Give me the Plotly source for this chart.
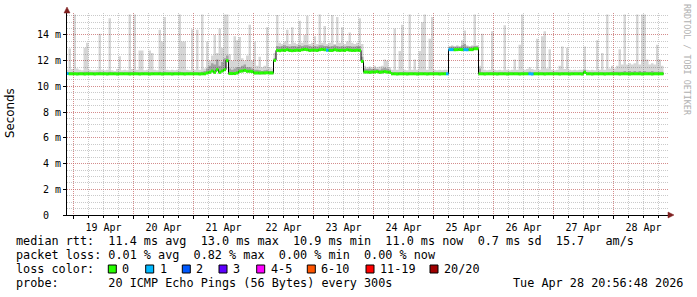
import plotly.graph_objects as go

# ---------------- data (hours since 19 Apr 00:00, hourly bins, start -3) ----------------
hours = list(range(-3, 236))

median_ms = (
    [11.00, 10.98, 10.98] +
    # 19 Apr
    [10.98, 10.97, 10.98, 10.98, 10.97, 10.98, 10.98, 10.98, 10.97, 10.98, 10.98, 10.98,
     10.98, 10.97, 10.98, 10.98, 10.98, 10.97, 10.98, 10.98, 10.98, 10.98, 10.97, 10.98] +
    # 20 Apr
    [10.98, 10.98, 10.97, 10.98, 10.98, 10.98, 10.97, 10.98, 10.98, 10.98, 10.98, 10.97,
     10.98, 10.98, 10.98, 10.97, 10.98, 10.98, 10.98, 10.98, 10.97, 10.98, 10.98, 10.98] +
    # 21 Apr
    [10.98, 10.98, 10.97, 10.98, 10.98, 11.05, 11.10, 11.20, 11.10, 11.30, 11.10, 11.20,
     11.30, 12.00, 11.00, 11.00, 11.00, 11.05, 11.18, 11.20, 11.25, 11.18, 11.18, 11.15] +
    # 22 Apr
    [11.05, 11.05, 11.04, 11.05, 11.05, 11.06, 11.05, 11.05, 12.03, 12.80, 12.78, 12.82,
     12.80, 12.85, 12.80, 12.78, 12.80, 12.82, 12.80, 12.85, 12.88, 12.85, 12.80, 12.82] +
    # 23 Apr
    [12.82, 12.80, 12.85, 12.88, 12.85, 12.82, 12.80, 12.80, 12.85, 12.82, 12.80, 12.82,
     12.80, 12.85, 12.82, 12.80, 12.80, 12.82, 12.80, 11.95, 11.12, 11.12, 11.10, 11.12] +
    # 24 Apr
    [11.12, 11.15, 11.10, 11.12, 11.15, 11.12, 11.10, 10.98, 10.98, 10.97, 10.98, 10.98,
     10.98, 10.97, 10.98, 10.98, 10.98, 10.97, 10.98, 10.98, 10.98, 10.97, 10.98, 10.98] +
    # 25 Apr
    [10.98, 10.98, 10.97, 10.98, 10.98, 10.98, 12.86, 12.86, 12.85, 12.86, 12.87, 12.86,
     12.86, 12.85, 12.86, 12.86, 12.93, 12.93, 10.98, 10.98, 10.97, 10.98, 10.98, 10.98] +
    # 26 Apr
    [10.98, 10.97, 10.98, 10.98, 10.98, 10.97, 10.98, 10.98, 10.98, 10.98, 10.97, 10.98,
     10.98, 10.98, 10.98, 10.97, 10.98, 10.98, 10.98, 10.98, 10.97, 10.98, 10.98, 10.98] +
    # 27 Apr
    [10.98, 10.98, 10.97, 10.98, 10.98, 10.98, 10.97, 10.98, 10.98, 10.98, 10.98, 10.97,
     11.10, 10.98, 10.98, 10.97, 10.98, 10.98, 10.98, 10.98, 10.97, 10.98, 10.98, 10.98] +
    # 28 Apr
    [10.98, 10.98, 10.97, 10.98, 10.98, 10.98, 10.97, 10.98, 10.98, 10.98, 10.98, 10.97,
     10.98, 10.98, 10.98, 10.97, 10.98, 10.98, 10.98, 10.98]
)

smoke_max_ms = (
    [11.30, 12.95, 11.35] +
    [15.60, 11.40, 11.30, 11.25, 13.00, 13.40, 11.30, 11.25, 11.25, 11.30, 14.10, 11.30,
     11.25, 11.30, 15.30, 11.25, 11.20, 11.35, 12.35, 11.25, 11.30, 11.25, 15.60, 11.35] +
    [15.60, 11.30, 12.80, 12.80, 11.25, 11.30, 12.80, 12.60, 11.30, 11.25, 14.40, 13.50,
     15.40, 11.30, 11.25, 11.30, 11.25, 11.30, 15.60, 13.50, 13.50, 11.30, 11.25, 14.45] +
    [11.30, 14.40, 11.30, 15.60, 11.40, 13.50, 12.00, 12.40, 14.00, 12.60, 14.50, 13.00,
     15.60, 15.60, 12.50, 12.00, 13.90, 13.60, 13.85, 12.20, 12.00, 12.40, 14.80, 12.00] +
    [13.50, 11.60, 12.30, 11.50, 11.60, 14.60, 11.50, 11.40, 12.60, 15.55, 13.40, 13.30,
     13.50, 14.40, 13.30, 14.60, 13.40, 13.30, 15.10, 13.40, 14.00, 15.50, 13.30, 13.40] +
    [13.90, 13.30, 15.60, 13.40, 14.70, 13.30, 13.40, 15.55, 13.30, 15.40, 13.40, 14.60,
     13.30, 13.50, 14.20, 13.40, 13.30, 13.40, 15.30, 13.30, 11.60, 11.50, 11.55, 11.50] +
    [11.60, 11.50, 11.55, 11.60, 12.10, 12.00, 11.50, 11.30, 14.50, 11.30, 12.75, 14.80,
     11.30, 11.25, 15.60, 11.30, 12.10, 11.30, 12.75, 15.00, 15.60, 11.30, 13.70, 15.40] +
    [11.30, 11.25, 11.30, 11.25, 11.30, 11.30, 13.10, 13.20, 13.10, 13.20, 13.10, 13.60,
     14.35, 13.20, 13.10, 13.20, 15.60, 13.20, 11.60, 14.10, 11.30, 11.25, 11.30, 14.30] +
    [11.30, 11.25, 11.30, 11.25, 14.75, 11.30, 11.25, 11.30, 12.10, 11.30, 13.25, 15.60,
     11.30, 11.35, 11.50, 11.35, 11.30, 13.70, 11.30, 13.90, 14.30, 11.40, 12.90, 11.30] +
    [11.25, 11.30, 11.60, 13.10, 11.35, 13.00, 11.30, 11.25, 11.30, 11.25, 11.30, 11.30,
     13.10, 11.30, 11.25, 11.30, 11.25, 13.60, 11.30, 12.60, 11.30, 15.60, 11.40, 11.60] +
    [11.40, 11.60, 12.90, 11.70, 15.60, 11.70, 11.80, 11.70, 11.80, 15.60, 11.70, 15.60,
     15.60, 12.10, 11.70, 11.80, 11.70, 13.25, 12.10, 11.60]
)

smoke_mid_ms = (
    [11.10, 11.10, 11.10] +
    [11.10, 11.10, 11.10, 11.10, 11.15, 11.15, 11.10, 11.10, 11.10, 11.10, 11.15, 11.10,
     11.10, 11.10, 11.15, 11.10, 11.10, 11.10, 11.10, 11.10, 11.10, 11.10, 11.15, 11.10] +
    [11.15, 11.10, 11.10, 11.10, 11.10, 11.10, 11.10, 11.10, 11.10, 11.10, 11.15, 11.10,
     11.15, 11.10, 11.10, 11.10, 11.10, 11.10, 11.15, 11.10, 11.10, 11.10, 11.10, 11.10] +
    [11.10, 11.10, 11.10, 11.15, 11.20, 11.40, 11.60, 11.80, 11.70, 12.10, 11.60, 11.90,
     12.20, 12.40, 11.40, 11.30, 11.40, 11.50, 11.50, 11.60, 11.70, 11.50, 11.50, 11.40] +
    [11.30, 11.30, 11.25, 11.20, 11.25, 11.30, 11.20, 11.20, 12.20, 13.15, 13.10, 13.15,
     13.20, 13.15, 13.10, 13.15, 13.15, 13.10, 13.20, 13.15, 13.20, 13.20, 13.15, 13.10] +
    [13.15, 13.10, 13.20, 13.20, 13.15, 13.15, 13.10, 13.15, 13.20, 13.15, 13.10, 13.15,
     13.10, 13.15, 13.15, 13.10, 13.10, 13.15, 13.15, 12.30, 11.40, 11.35, 11.40, 11.35] +
    [11.40, 11.35, 11.30, 11.40, 11.45, 11.40, 11.30, 11.10, 11.10, 11.10, 11.10, 11.10,
     11.10, 11.10, 11.10, 11.10, 11.10, 11.10, 11.10, 11.10, 11.10, 11.10, 11.10, 11.10] +
    [11.10, 11.10, 11.10, 11.10, 11.10, 11.10, 13.10, 13.10, 13.10, 13.10, 13.10, 13.20,
     13.30, 13.10, 13.10, 13.10, 13.15, 13.15, 11.40, 11.10, 11.10, 11.10, 11.10, 11.10] +
    [11.10, 11.10, 11.10, 11.10, 11.10, 11.10, 11.10, 11.10, 11.10, 11.10, 11.10, 11.10,
     11.10, 11.10, 11.15, 11.10, 11.10, 11.10, 11.10, 11.10, 11.10, 11.10, 11.10, 11.10] +
    [11.10, 11.10, 11.10, 11.10, 11.10, 11.10, 11.10, 11.10, 11.10, 11.10, 11.10, 11.10,
     11.30, 11.10, 11.10, 11.10, 11.10, 11.10, 11.10, 11.10, 11.10, 11.10, 11.10, 11.15] +
    [11.15, 11.15, 11.15, 11.15, 11.20, 11.15, 11.20, 11.15, 11.20, 11.15, 11.20, 11.15,
     11.20, 11.15, 11.15, 11.20, 11.15, 11.15, 11.15, 11.15]
)

loss_hour = [-3, 101, 149, 150, 151, 156, 157, 182, 183]
loss_count = [1, 1, 1, 1, 1, 1, 1, 1, 1]

loss_labels = ["0", "1", "2", "3", "4-5", "6-10", "11-19", "20/20"]
loss_colors = ["#26ff00", "#00b8ff", "#0059ff", "#5e00ff", "#ff00ff", "#ff5500", "#ff0000", "#a00000"]
loss_upper = [0, 1, 2, 3, 5, 10, 19, 20]

day_labels = ["19 Apr", "20 Apr", "21 Apr", "22 Apr", "23 Apr", "24 Apr", "25 Apr", "26 Apr", "27 Apr", "28 Apr"]
day_hours = [0, 24, 48, 72, 96, 120, 144, 168, 192, 216]
ytick_vals = [0, 2, 4, 6, 8, 10, 12, 14]
ytick_text = ["0\u00a0\u00a0", "2 m", "4 m", "6 m", "8 m", "10 m", "12 m", "14 m"]

line_median = "median rtt:  11.4 ms avg  13.0 ms max  10.9 ms min  11.0 ms now  0.7 ms sd  15.7   am/s"
line_loss = "packet loss: 0.01 % avg  0.82 % max  0.00 % min  0.00 % now"
line_color_head = "loss color:"
line_probe = "probe:       20 ICMP Echo Pings (56 Bytes) every 300s"
stamp = "Tue Apr 28 20:56:48 2026"

assert len(hours) == len(median_ms) == len(smoke_max_ms) == len(smoke_mid_ms)

# ---------------- geometry ----------------
W_IMG, H_IMG = 697, 297
L, R, T, B = 67, 29, 13, 82
PW = W_IMG - L - R
PH = H_IMG - T - B
X_RANGE = [-2.6, 237.8]
Y_RANGE = [0, 15.71]


def pxx(x):
    return (x - L) / PW


def pxy(y):
    return (H_IMG - B - y) / PH


MONO = "DejaVu Sans Mono"
SANS = "DejaVu Sans"

fig = go.Figure()

xs = hours + [hours[-1] + 1]


def step(vals):
    return vals + [vals[-1]]


lower = [m - 0.1 for m in median_ms]

for top, col in [(smoke_max_ms, "rgba(0,0,0,0.16)"), (smoke_mid_ms, "rgba(0,0,0,0.24)")]:
    fig.add_trace(go.Scatter(x=xs, y=step(lower), mode="lines", line=dict(width=0, shape="hv"),
                             hoverinfo="skip", showlegend=False))
    fig.add_trace(go.Scatter(x=xs, y=step(top), mode="lines", line=dict(width=0, shape="hv"),
                             fill="tonexty", fillcolor=col, hoverinfo="skip", showlegend=False))

# black median step line
fig.add_trace(go.Scatter(x=xs, y=step(median_ms), mode="lines",
                         line=dict(color="black", width=1, shape="hv"),
                         hoverinfo="skip", showlegend=False))

# loss-coloured median segments
loss_map = dict(zip(loss_hour, loss_count))


def loss_class(n):
    for i, u in enumerate(loss_upper):
        if n <= u:
            return i
    return len(loss_upper) - 1


seg = {}
for h, m in zip(hours, median_ms):
    c = loss_class(loss_map.get(h, 0))
    sx, sy = seg.setdefault(c, ([], []))
    sx += [h, h + 1, None]
    sy += [m, m, None]
for c, (sx, sy) in sorted(seg.items()):
    fig.add_trace(go.Scatter(x=sx, y=sy, mode="lines",
                             line=dict(color=loss_colors[c], width=3),
                             hoverinfo="skip", showlegend=False))

GRID = "rgba(150,150,150,0.5)"
MGRID = "rgba(222,79,79,0.5)"
DASH = "1px,1px"

fig.update_layout(
    width=W_IMG, height=H_IMG,
    margin=dict(l=L, r=R, t=T, b=B, pad=0),
    paper_bgcolor="white", plot_bgcolor="white",
    showlegend=False,
    xaxis=dict(range=X_RANGE, tickmode="array", tickvals=day_hours, ticktext=day_labels,
               ticklabelshift=30, ticks="outside", ticklen=3, tickcolor="black",
               showgrid=True, gridcolor=MGRID, griddash=DASH, gridwidth=1,
               minor=dict(dtick=6, tick0=0, showgrid=True, gridcolor=GRID, griddash=DASH,
                          ticks="outside", ticklen=2, tickcolor="black"),
               showline=True, linecolor="black", linewidth=1, zeroline=False,
               tickfont=dict(family=MONO, size=10, color="black"), fixedrange=True),
    yaxis=dict(range=Y_RANGE, tickmode="array", tickvals=ytick_vals, ticktext=ytick_text,
               ticks="outside", ticklen=3, tickcolor="black",
               showgrid=True, gridcolor=MGRID, griddash=DASH, gridwidth=1,
               minor=dict(dtick=0.5, tick0=0, showgrid=True, gridcolor=GRID, griddash=DASH),
               showline=True, linecolor="black", linewidth=1, zeroline=False,
               tickfont=dict(family=MONO, size=10, color="black"), fixedrange=True),
)

ann = []


def text(s, x, y, size=11.8, family=MONO, color="black", angle=0, xanchor="left"):
    ann.append(dict(text=s.replace(" ", "\u00a0"), x=pxx(x), y=pxy(y), xref="paper", yref="paper",
                    xanchor=xanchor, yanchor="middle", showarrow=False, textangle=angle,
                    font=dict(family=family, size=size, color=color), borderpad=0))


text(line_median, 15, 241)
text(line_loss, 15, 255)
text(line_color_head, 15, 269)
text(line_probe, 15, 283)
text(stamp, 512, 283)
text("Seconds", 10, 113, size=11.8, family=SANS, angle=-90, xanchor="center")
text("RRDTOOL / TOBI OETIKER", 687, 60, size=8.4, color="#b0b0b0", angle=90, xanchor="center")

sq_left = [108.3, 145.7, 182.3, 219.0, 256.7, 307.3, 366.0, 430.0]
shapes = []
for lab, col, x0 in zip(loss_labels, loss_colors, sq_left):
    shapes.append(dict(type="rect", xref="paper", yref="paper",
                       x0=pxx(x0), x1=pxx(x0 + 8), y0=pxy(265), y1=pxy(273),
                       fillcolor=col, line=dict(color="black", width=1)))
    text(lab, x0 + 13.0, 269)

ARROW = "#7f2020"


def tri(points):
    p = " L ".join(f"{pxx(a):.5f},{pxy(b):.5f}" for a, b in points)
    return dict(type="path", xref="paper", yref="paper", path="M " + p + " Z",
                fillcolor=ARROW, line=dict(color=ARROW, width=0.5))


shapes.append(tri([(64, 13), (70, 13), (67, 7)]))
shapes.append(tri([(668, 212), (668, 218), (674, 215)]))

fig.update_layout(annotations=ann, shapes=shapes)
fig.write_html("out.html")
